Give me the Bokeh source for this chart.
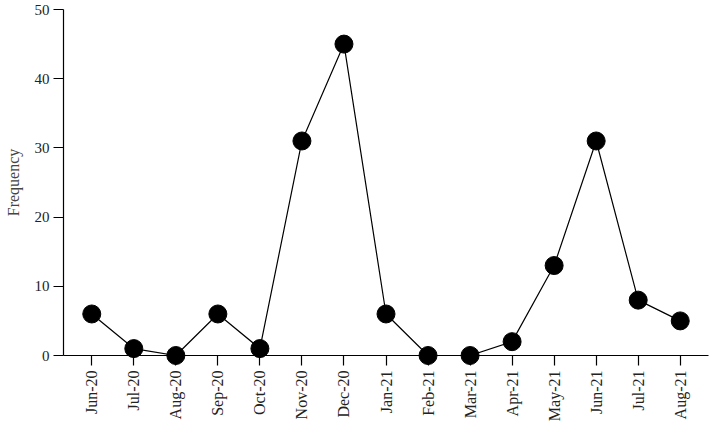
import math
from bokeh.plotting import figure
from bokeh.models import Range1d, FactorRange, ColumnDataSource
from bokeh.embed import file_html
from bokeh.resources import INLINE

months = ["Jun-20", "Jul-20", "Aug-20", "Sep-20", "Oct-20", "Nov-20", "Dec-20",
          "Jan-21", "Feb-21", "Mar-21", "Apr-21", "May-21", "Jun-21", "Jul-21", "Aug-21"]
frequency = [6, 1, 0, 6, 1, 31, 45, 6, 0, 0, 2, 13, 31, 8, 5]
y_ticks = [0, 10, 20, 30, 40, 50]

FONT = "Liberation Serif"

src = ColumnDataSource(dict(x=months, y=frequency))

p = figure(width=710, height=424, output_backend="svg", toolbar_location=None,
           x_range=FactorRange(*months, range_padding=0.023),
           y_range=Range1d(0, 50),
           min_border_left=63, min_border_right=2, min_border_top=9, min_border_bottom=0)

p.line("x", "y", source=src, line_color="black", line_width=1.2)
p.scatter("x", "y", source=src, size=18, fill_color="black", line_color="black", level="overlay")

p.outline_line_color = None
p.grid.grid_line_color = None
p.background_fill_color = "white"
p.border_fill_color = "white"

p.yaxis.ticker = y_ticks
p.yaxis.axis_label = "Frequency"
for ax in (p.xaxis[0], p.yaxis[0]):
    ax.major_label_text_font = FONT
    ax.major_label_text_font_size = "15px"
    ax.major_label_text_color = "#222222"
    ax.axis_line_color = "black"
    ax.axis_line_width = 1.2
    ax.major_tick_line_color = "black"
    ax.major_tick_line_width = 1.2
    ax.major_tick_out = 10
    ax.major_tick_in = 0
    ax.minor_tick_line_color = None
    ax.major_label_standoff = 4
p.xaxis.major_label_text_font_size = "16px"
p.xaxis.major_label_standoff = 5
p.yaxis.axis_label_text_font = FONT
p.yaxis.axis_label_text_font_size = "16px"
p.yaxis.axis_label_text_font_style = "normal"
p.yaxis.axis_label_standoff = 10
p.xaxis.major_label_orientation = math.pi / 2

open("out.html", "w").write(file_html(p, INLINE))
